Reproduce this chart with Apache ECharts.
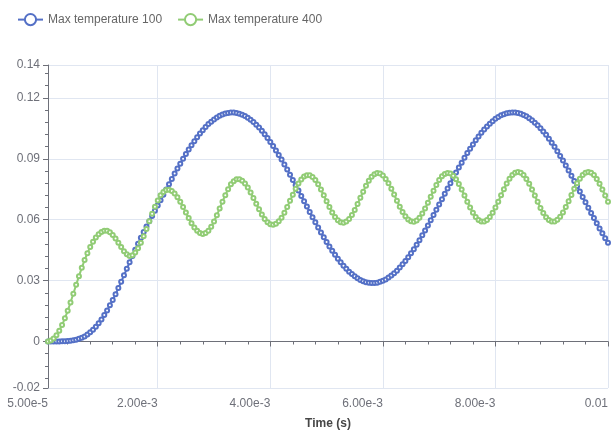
<!DOCTYPE html>
<html>
<head>
<meta charset="utf-8">
<script src="https://cdn.jsdelivr.net/npm/echarts@6/dist/echarts.min.js"></script>
<style>
  html, body { margin: 0; padding: 0; background: #fff; }
  #chart { width: 611px; height: 435px; }
</style>
</head>
<body>
<div id="chart"></div>
<script>
// sample times: 200 steps of 5e-5 s, starting at 5e-5
const timeStep = 5e-5;
const sampleCount = 200;

const seriesNames = ['Max temperature 100', 'Max temperature 400'];

const maxTemp100 = [
  0, 0, 0, 0, 0, 0.0001, 0.0001, 0.0002, 0.0004, 0.0006,
  0.0009, 0.0013, 0.0018, 0.0025, 0.0034, 0.0045, 0.0058, 0.0073, 0.0090, 0.0109,
  0.0130, 0.0153, 0.0178, 0.0205, 0.0233, 0.0263, 0.0294, 0.0326, 0.0358, 0.0390,
  0.0421, 0.0452, 0.0482, 0.0511, 0.0539, 0.0566, 0.0592, 0.0618, 0.0644, 0.0670,
  0.0696, 0.0723, 0.0749, 0.0775, 0.0801, 0.0827, 0.0852, 0.0876, 0.0900, 0.0923,
  0.0946, 0.0967, 0.0987, 0.1006, 0.1024, 0.1041, 0.1057, 0.1071, 0.1083, 0.1094,
  0.1104, 0.1112, 0.1118, 0.1123, 0.1126, 0.1128, 0.1128, 0.1126, 0.1122, 0.1117,
  0.1111, 0.1102, 0.1092, 0.1081, 0.1068, 0.1054, 0.1038, 0.1021, 0.1003, 0.0983,
  0.0963, 0.0941, 0.0919, 0.0896, 0.0872, 0.0847, 0.0822, 0.0796, 0.0770, 0.0744,
  0.0717, 0.0691, 0.0665, 0.0638, 0.0612, 0.0587, 0.0562, 0.0537, 0.0513, 0.0490,
  0.0468, 0.0447, 0.0427, 0.0408, 0.0390, 0.0373, 0.0358, 0.0344, 0.0332, 0.0321,
  0.0311, 0.0303, 0.0297, 0.0292, 0.0289, 0.0288, 0.0288, 0.0290, 0.0294, 0.0299,
  0.0306, 0.0315, 0.0325, 0.0336, 0.0349, 0.0364, 0.0380, 0.0397, 0.0415, 0.0435,
  0.0455, 0.0477, 0.0499, 0.0523, 0.0547, 0.0572, 0.0597, 0.0623, 0.0649, 0.0675,
  0.0701, 0.0728, 0.0754, 0.0780, 0.0806, 0.0832, 0.0857, 0.0881, 0.0905, 0.0928,
  0.0950, 0.0971, 0.0991, 0.1010, 0.1028, 0.1044, 0.1059, 0.1073, 0.1085, 0.1097,
  0.1106, 0.1114, 0.1120, 0.1124, 0.1127, 0.1128, 0.1128, 0.1125, 0.1122, 0.1116,
  0.1109, 0.1100, 0.1090, 0.1078, 0.1065, 0.1051, 0.1035, 0.1018, 0.0999, 0.0979,
  0.0959, 0.0937, 0.0914, 0.0891, 0.0867, 0.0842, 0.0817, 0.0791, 0.0765, 0.0739,
  0.0712, 0.0686, 0.0659, 0.0633, 0.0608, 0.0582, 0.0557, 0.0533, 0.0509, 0.0486
];

const maxTemp400 = [
  0, 0.0005, 0.0015, 0.0031, 0.0053, 0.0081, 0.0114, 0.0151, 0.0192, 0.0235,
  0.0279, 0.0322, 0.0363, 0.0401, 0.0435, 0.0465, 0.0491, 0.0512, 0.0528, 0.0540,
  0.0546, 0.0545, 0.0538, 0.0525, 0.0508, 0.0487, 0.0465, 0.0445, 0.0430, 0.0421,
  0.0425, 0.0438, 0.0459, 0.0486, 0.0518, 0.0554, 0.0592, 0.0629, 0.0664, 0.0695,
  0.0720, 0.0737, 0.0746, 0.0747, 0.0741, 0.0729, 0.0711, 0.0688, 0.0662, 0.0635,
  0.0608, 0.0583, 0.0562, 0.0545, 0.0534, 0.0530, 0.0534, 0.0545, 0.0565, 0.0591,
  0.0622, 0.0655, 0.0689, 0.0721, 0.0750, 0.0774, 0.0790, 0.0799, 0.0799, 0.0792,
  0.0778, 0.0759, 0.0734, 0.0707, 0.0679, 0.0651, 0.0626, 0.0604, 0.0588, 0.0578,
  0.0575, 0.0580, 0.0592, 0.0610, 0.0634, 0.0663, 0.0693, 0.0723, 0.0752, 0.0778,
  0.0798, 0.0813, 0.0819, 0.0819, 0.0810, 0.0795, 0.0774, 0.0749, 0.0720, 0.0691,
  0.0662, 0.0635, 0.0613, 0.0597, 0.0587, 0.0585, 0.0591, 0.0603, 0.0623, 0.0648,
  0.0677, 0.0708, 0.0738, 0.0767, 0.0792, 0.0812, 0.0824, 0.0830, 0.0828, 0.0818,
  0.0801, 0.0779, 0.0753, 0.0724, 0.0693, 0.0664, 0.0638, 0.0617, 0.0601, 0.0592,
  0.0590, 0.0596, 0.0610, 0.0630, 0.0655, 0.0683, 0.0713, 0.0743, 0.0771, 0.0795,
  0.0814, 0.0825, 0.0830, 0.0827, 0.0816, 0.0799, 0.0776, 0.0749, 0.0719, 0.0689,
  0.0660, 0.0634, 0.0613, 0.0599, 0.0591, 0.0591, 0.0599, 0.0613, 0.0634, 0.0660,
  0.0689, 0.0720, 0.0750, 0.0778, 0.0802, 0.0820, 0.0831, 0.0835, 0.0831, 0.0820,
  0.0801, 0.0777, 0.0749, 0.0719, 0.0688, 0.0658, 0.0633, 0.0612, 0.0598, 0.0591,
  0.0591, 0.0600, 0.0615, 0.0636, 0.0662, 0.0691, 0.0722, 0.0752, 0.0779, 0.0802,
  0.0820, 0.0831, 0.0835, 0.0831, 0.0820, 0.0801, 0.0777, 0.0749, 0.0719, 0.0688
];

const xRange = [5e-5, 0.01];
const yRange = [-0.0229, 0.1362];

const times = [];
for (let i = 1; i <= sampleCount; i++) {
  times.push(+(i * timeStep).toFixed(6));
}

function toPairs(values) {
  return values.map((v, i) => [times[i], v]);
}

function formatTime(v) {
  if (v !== 0 && Math.abs(v) < 0.01 - 1e-12) {
    return v.toExponential(2);
  }
  return String(+v.toFixed(4));
}

const AXIS_COLOR = '#6E7079';
const FONT = 'Liberation Sans, Arial, Helvetica, sans-serif';

const chart = echarts.init(document.getElementById('chart'), null, {renderer: 'canvas'});

chart.setOption({
  animation: false,
  color: ['#5470c6', '#91cc75'],
  textStyle: {fontFamily: FONT},
  legend: {
    left: 12,
    top: 8,
    itemGap: 15,
    textStyle: {color: '#666', fontSize: 12, fontFamily: FONT},
    data: seriesNames
  },
  grid: {left: 48, right: 1, top: 65, bottom: 43, containLabel: false},
  xAxis: [
    {
      type: 'value',
      min: xRange[0],
      max: xRange[1],
      position: 'bottom',
      name: 'Time (s)',
      nameLocation: 'middle',
      nameGap: 30,
      nameTextStyle: {color: '#464646', fontWeight: 'bold', fontSize: 12, fontFamily: FONT},
      axisLine: {show: false, onZero: false},
      axisTick: {show: false},
      axisLabel: {
        color: AXIS_COLOR,
        fontSize: 12,
        align: 'right',
        margin: 10,
        formatter: formatTime
      },
      splitLine: {show: true, lineStyle: {color: '#E0E6F1'}}
    },
    {
      type: 'value',
      min: xRange[0],
      max: xRange[1],
      position: 'bottom',
      axisLine: {show: true, onZero: true, lineStyle: {color: AXIS_COLOR}},
      axisTick: {show: true},
      minorTick: {show: true, splitNumber: 5},
      axisLabel: {show: false},
      splitLine: {show: false}
    }
  ],
  yAxis: {
    type: 'value',
    min: yRange[0],
    max: yRange[1],
    axisLine: {show: true, lineStyle: {color: AXIS_COLOR}},
    axisTick: {show: true},
    minorTick: {show: true, splitNumber: 5},
    axisLabel: {
      color: AXIS_COLOR,
      fontSize: 12,
      formatter: v => String(+v.toFixed(2))
    },
    splitLine: {show: true, lineStyle: {color: '#E0E6F1'}}
  },
  series: [
    {
      name: seriesNames[0],
      type: 'line',
      xAxisIndex: 0,
      data: toPairs(maxTemp100),
      symbol: 'emptyCircle',
      symbolSize: 4,
      showAllSymbol: true,
      lineStyle: {width: 2}
    },
    {
      name: seriesNames[1],
      type: 'line',
      xAxisIndex: 0,
      data: toPairs(maxTemp400),
      symbol: 'emptyCircle',
      symbolSize: 4,
      showAllSymbol: true,
      lineStyle: {width: 2}
    }
  ]
});
</script>
</body>
</html>
